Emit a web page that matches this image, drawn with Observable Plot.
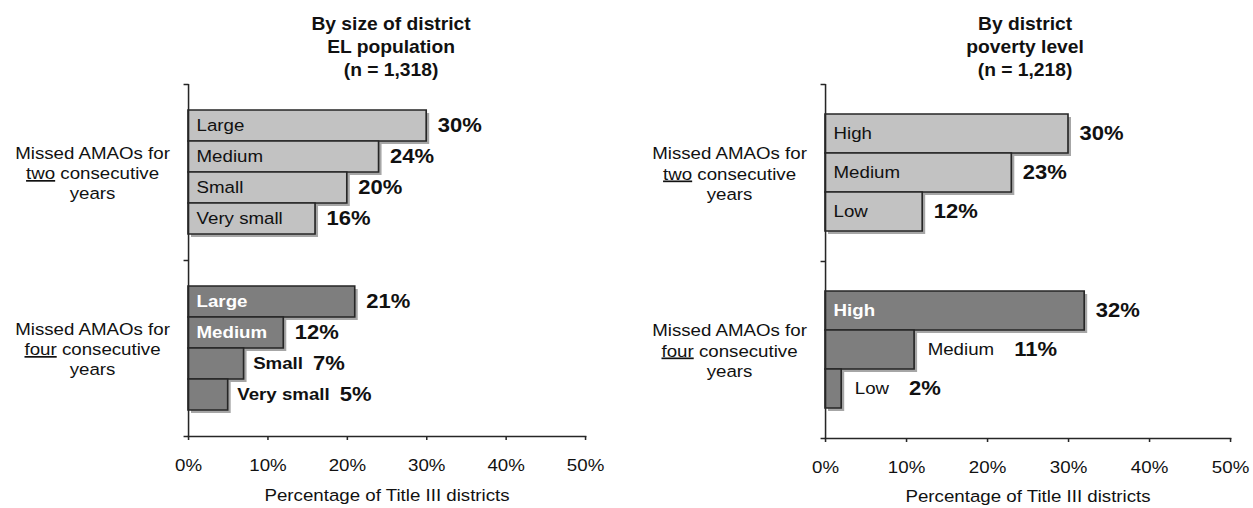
<!DOCTYPE html>
<html><head><meta charset="utf-8">
<script src="https://cdn.jsdelivr.net/npm/d3@7"></script>
<script src="https://cdn.jsdelivr.net/npm/@observablehq/plot@0.6"></script>
<style>
body{margin:0;background:#fff;}
#wrap{position:relative;width:1253px;height:508px;overflow:hidden;font-family:"Liberation Sans",Arial,sans-serif;background:#fff;}
#left,#right{position:absolute;top:0;}
#left{left:0}
#right{left:627px}
</style></head><body><div id="wrap"><div id="left"></div><div id="right"></div></div>
<script>
// ---- data ----
const leftTitle = "By size of district\nEL population\n(n = 1,318)";
const rightTitle = "By district\npoverty level\n(n = 1,218)";
const groups = ["two", "four"];
const groupLabels = ["Missed AMAOs for\ntwo consecutive\nyears", "Missed AMAOs for\nfour consecutive\nyears"];
const sizeCats = ["Large", "Medium", "Small", "Very small"];
const sizeTwo = [30, 24, 20, 16];
const sizeFour = [21, 12, 7, 5];
const povertyCats = ["High", "Medium", "Low"];
const povertyTwo = [30, 23, 12];
const povertyFour = [32, 11, 2];
const xTicks = [0, 10, 20, 30, 40, 50];
const xLabel = "Percentage of Title III districts";

// ---- style ----
const FONT = '"Liberation Sans", Arial, sans-serif';
const LIGHT = "#c2c2c2", DARK = "#7e7e7e", EDGE = "#262626", INK = "#111";
const S = 1.1; // horizontal stretch of the original artwork
const panels = [
  {el: "#left", width: 627, ml: 188, mr: 42, mt: 83, mb: 72, title: leftTitle, titleDx: 4, axDy: 59,
   cats: sizeCats, two: sizeTwo, four: sizeFour, fourPlace: ["in", "in", "out", "out"],
   outWeight: "bold", outNameDx: 9, outGap: 10},
  {el: "#right", width: 626, ml: 198, mr: 23, mt: 84, mb: 70, title: rightTitle, titleDx: -3, axDy: 58,
   cats: povertyCats, two: povertyTwo, four: povertyFour, fourPlace: ["in", "out", "out"],
   outWeight: "normal", outNameDx: 13, outGap: 20}
];
const NAME_SIZE = 17, VALUE_SIZE = 20;

const ctx = document.createElement("canvas").getContext("2d");
function measure(text, weight, size) {
  ctx.font = `${weight} ${size}px "Liberation Sans", Arial, sans-serif`;
  return ctx.measureText(text).width;
}
const tickSym = {draw(c) { c.moveTo(-5 / S, 0); c.lineTo(0, 0); }};

for (const p of panels) {
  const rows = [];
  [p.two, p.four].forEach((vals, gi) => {
    p.cats.forEach((c, i) => rows.push({group: groups[gi], cat: c, value: vals[i],
      place: gi === 0 ? "light" : p.fourPlace[i]}));
  });
  const glabels = groups.map((g, i) => ({group: g, label: groupLabels[i]}));
  const outRows = rows.filter(r => r.place === "out");

  const marks = [
    Plot.barX(rows, {fy: "group", y: "cat", x: "value", fill: "#000", fillOpacity: 0.35, dx: 3 / S, dy: 3, ariaLabel: "shadow"}),
    Plot.barX(rows.filter(r => r.group === "two"), {fy: "group", y: "cat", x: "value", fill: LIGHT, stroke: EDGE, strokeWidth: 1.5}),
    Plot.barX(rows.filter(r => r.group === "four"), {fy: "group", y: "cat", x: "value", fill: DARK, stroke: EDGE, strokeWidth: 1.5}),
    Plot.ruleX([0], {stroke: EDGE, strokeWidth: 1.4}),
    Plot.dot([null], {frameAnchor: "top-left", symbol: tickSym, fill: "none", stroke: EDGE, strokeWidth: 1.5}),
    Plot.dot([null], {fy: () => "four", frameAnchor: "bottom-left", symbol: tickSym, fill: "none", stroke: EDGE, strokeWidth: 1.5}),
    Plot.frame({anchor: "bottom", fy: () => "four", stroke: EDGE, strokeWidth: 1.5}),
    Plot.axisX({ticks: xTicks, tickFormat: d => d + "%", tickSize: 4, tickPadding: 18, fontSize: 17, label: null, stroke: EDGE, strokeWidth: 1.4, fill: INK}),
    // titles
    Plot.text([null], {fy: () => "two", text: () => p.title, frameAnchor: "top", lineAnchor: "middle", dy: -39, dx: p.titleDx / S,
      fontWeight: "bold", fontSize: 17.5, lineHeight: 1.3, fill: INK}),
    // axis title
    Plot.text([null], {fy: () => "four", text: () => xLabel, frameAnchor: "bottom", lineAnchor: "middle", dy: p.axDy, fontSize: 17, fill: INK}),
    // group labels
    Plot.text(glabels, {fy: "group", text: "label", frameAnchor: "left", dx: -96 / S, textAnchor: "middle", lineAnchor: "middle",
      fontSize: 17, lineHeight: 1.2, fill: INK}),
    // inside names
    Plot.text(rows.filter(r => r.place === "light"), {fy: "group", y: "cat", text: "cat", frameAnchor: "left", dx: 8 / S,
      textAnchor: "start", fontSize: NAME_SIZE, fill: INK}),
    Plot.text(rows.filter(r => r.place === "in"), {fy: "group", y: "cat", text: "cat", frameAnchor: "left", dx: 8 / S,
      textAnchor: "start", fontSize: NAME_SIZE, fontWeight: "bold", fill: "#fff"}),
    // values
    Plot.text(rows.filter(r => r.place !== "out"), {fy: "group", y: "cat", x: "value", text: d => d.value + "%", dx: 11 / S,
      textAnchor: "start", fontSize: VALUE_SIZE, fontWeight: "bold", fill: INK})
  ];
  for (const r of outRows) {
    const w = measure(r.cat, p.outWeight, NAME_SIZE);
    marks.push(Plot.text([r], {fy: "group", y: "cat", x: "value", text: "cat", dx: p.outNameDx / S, textAnchor: "start",
      fontSize: NAME_SIZE, fontWeight: p.outWeight, fill: INK}));
    marks.push(Plot.text([r], {fy: "group", y: "cat", x: "value", text: d => d.value + "%", dx: (p.outNameDx + p.outGap) / S + w,
      textAnchor: "start", fontSize: VALUE_SIZE, fontWeight: "bold", fill: INK}));
  }

  const W = p.width / S;
  const chart = Plot.plot({
    width: W, height: 508,
    marginLeft: p.ml / S, marginRight: p.mr / S, marginTop: p.mt, marginBottom: p.mb,
    style: {fontFamily: FONT, fontSize: "17px", background: "transparent", color: INK, overflow: "visible"},
    x: {domain: [0, 50]},
    y: {domain: p.cats, paddingInner: 0, paddingOuter: 0.76, axis: null},
    fy: {domain: groups, padding: 0, axis: null},
    marks
  });
  // underline "two"/"four"
  const ns = "http://www.w3.org/2000/svg";
  chart.querySelectorAll("tspan").forEach(t => {
    const m = t.textContent.match(/^(two|four)( consecutive)$/);
    if (m) {
      t.textContent = "";
      const u = document.createElementNS(ns, "tspan");
      u.setAttribute("text-decoration", "underline");
      u.textContent = m[1];
      t.appendChild(u);
      t.appendChild(document.createTextNode(m[2]));
    }
  });
  chart.querySelectorAll('g[aria-label="shadow"]').forEach(g => g.style.filter = "blur(1.5px)");
  // reproduce the slight horizontal stretch of the original
  chart.setAttribute("width", p.width);
  chart.setAttribute("height", 508);
  chart.setAttribute("preserveAspectRatio", "none");
  chart.style.width = p.width + "px";
  chart.style.height = "508px";
  chart.style.maxWidth = "none";
  document.querySelector(p.el).appendChild(chart);
}
</script></body></html>
